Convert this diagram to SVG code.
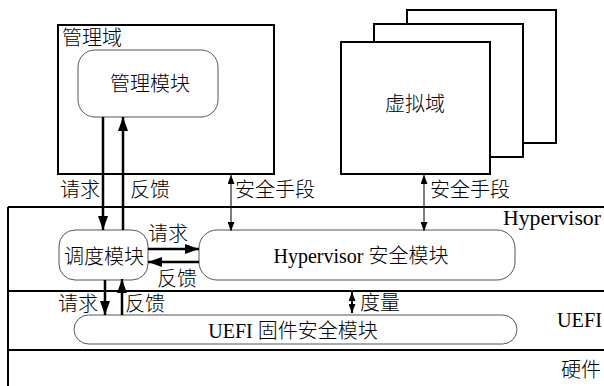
<svg xmlns="http://www.w3.org/2000/svg" width="604" height="386" viewBox="0 0 604 386">
<style>
.t{font-family:"Liberation Serif","Noto Sans CJK SC",serif;font-size:20px;font-weight:300;fill:#000}
.box{fill:#fff;stroke:#000;stroke-width:2}
.rr{fill:#fff;stroke:#555;stroke-width:1}
.layer{stroke:#000;stroke-width:2;fill:none}
.thick{stroke:#000;stroke-width:2.5;fill:none}
.thin{stroke:#000;stroke-width:1;fill:none}
</style>
<defs>
<marker id="ab" viewBox="0 0 14 10" refX="14" refY="5" markerWidth="14" markerHeight="10" markerUnits="userSpaceOnUse" orient="auto-start-reverse">
<path d="M0,0 L14,5 L0,10 Z" fill="#000"/>
</marker>
<marker id="as" viewBox="0 0 9 7" refX="9" refY="3.5" markerWidth="9" markerHeight="7" markerUnits="userSpaceOnUse" orient="auto-start-reverse">
<path d="M0,0 L9,3.5 L0,7 Z" fill="#000"/>
</marker>
</defs>

<g id="layers">
<path class="layer" d="M8,207 H604 M8,291 H604 M8,350 H604 M8,207 V386"/>
<text class="t" x="503" y="225" textLength="98" lengthAdjust="spacingAndGlyphs">Hypervisor</text>
<text class="t" x="557" y="327" textLength="45" lengthAdjust="spacingAndGlyphs">UEFI</text>
<text class="t" x="561" y="377">硬件</text>
</g>

<g id="mgmt-domain">
<rect class="box" x="58" y="25" width="216" height="149"/>
<text class="t" x="62" y="45">管理域</text>
</g>

<g id="mgmt-module">
<rect class="rr" x="78" y="50" width="140" height="67" rx="17"/>
<text class="t" x="150" y="91" text-anchor="middle">管理模块</text>
</g>

<g id="virtual-domain">
<rect class="box" x="407" y="10" width="149" height="133"/>
<rect class="box" x="374" y="24" width="149" height="133"/>
<rect class="box" x="341" y="42" width="149" height="132"/>
<text class="t" x="415" y="111" text-anchor="middle">虚拟域</text>
</g>

<g id="sched-module">
<rect class="rr" x="59" y="230" width="89" height="50" rx="16"/>
<text class="t" x="104" y="264" text-anchor="middle">调度模块</text>
</g>

<g id="hv-module">
<rect class="rr" x="199" y="230" width="316" height="50" rx="18"/>
<text class="t" x="361" y="263" text-anchor="middle">Hypervisor 安全模块</text>
</g>

<g id="uefi-module">
<rect class="rr" x="74" y="315" width="443" height="29" rx="14.5"/>
<text class="t" x="293" y="338" text-anchor="middle">UEFI 固件安全模块</text>
</g>

<g id="connectors">
<line class="thick" x1="103" y1="117" x2="103" y2="230" marker-end="url(#ab)"/>
<line class="thick" x1="123" y1="230" x2="123" y2="117" marker-end="url(#ab)"/>
<line class="thick" x1="148" y1="249" x2="199" y2="249" marker-end="url(#ab)"/>
<line class="thick" x1="199" y1="262" x2="148" y2="262" marker-end="url(#ab)"/>
<line class="thick" x1="105" y1="280" x2="105" y2="315" marker-end="url(#ab)"/>
<line class="thick" x1="122" y1="315" x2="122" y2="279" marker-end="url(#ab)"/>
<line class="thin" x1="231" y1="175" x2="231" y2="231" marker-start="url(#as)" marker-end="url(#as)"/>
<line class="thin" x1="424" y1="175" x2="424" y2="231" marker-start="url(#as)" marker-end="url(#as)"/>
<line class="layer" x1="352" y1="292" x2="352" y2="313" marker-start="url(#as)" marker-end="url(#as)"/>
<text class="t" x="60" y="197">请求</text>
<text class="t" x="130" y="197">反馈</text>
<text class="t" x="235" y="197">安全手段</text>
<text class="t" x="430" y="197">安全手段</text>
<text class="t" x="148" y="241">请求</text>
<text class="t" x="157" y="286">反馈</text>
<text class="t" x="58" y="311">请求</text>
<text class="t" x="125" y="311">反馈</text>
<text class="t" x="360" y="310">度量</text>
</g>
</svg>
